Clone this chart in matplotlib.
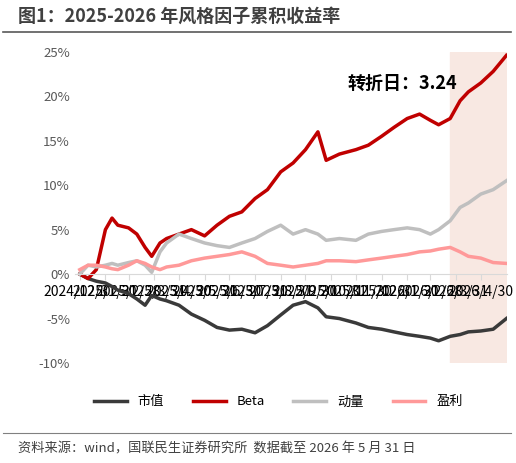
import pandas as pd
import matplotlib.pyplot as plt
from matplotlib.ticker import FuncFormatter

plt.rcParams['font.family'] = ['Noto Sans CJK SC', 'DejaVu Sans']

# semi-monthly sample points
dates = pd.to_datetime([
    "2024-12-31", "2025-01-10", "2025-01-20", "2025-01-31", "2025-02-08", "2025-02-15",
    "2025-02-28", "2025-03-10", "2025-03-20", "2025-03-28", "2025-04-07", "2025-04-15",
    "2025-04-30", "2025-05-15", "2025-05-31", "2025-06-15", "2025-06-30", "2025-07-15",
    "2025-07-31", "2025-08-15", "2025-08-31", "2025-09-15", "2025-09-30", "2025-10-15",
    "2025-10-25", "2025-11-10", "2025-11-30", "2025-12-15", "2025-12-31", "2026-01-15",
    "2026-01-31", "2026-02-15", "2026-02-28", "2026-03-10", "2026-03-24", "2026-04-05",
    "2026-04-15", "2026-04-30", "2026-05-15", "2026-05-31",
])
size = [0, -0.5, -0.8, -1.0, -1.4, -1.8, -2.2, -2.8, -3.5, -2.4, -2.8, -3.0,
        -3.5, -4.5, -5.2, -6.0, -6.3, -6.2, -6.6, -5.8, -4.6, -3.5, -3.1, -3.8,
        -4.8, -5.0, -5.5, -6.0, -6.2, -6.5, -6.8, -7.0, -7.2, -7.5, -7.0, -6.8,
        -6.5, -6.4, -6.2, -5.0]
beta = [0, -0.5, 0.5, 5.0, 6.3, 5.5, 5.2, 4.5, 3.0, 2.0, 3.5, 4.0,
        4.5, 5.0, 4.3, 5.5, 6.5, 7.0, 8.5, 9.5, 11.5, 12.5, 14.0, 16.0,
        12.8, 13.5, 14.0, 14.5, 15.5, 16.5, 17.5, 18.0, 17.3, 16.8, 17.5, 19.5,
        20.5, 21.5, 22.8, 24.6]
momentum = [0, 1.0, 0.8, 1.0, 1.2, 1.0, 1.3, 1.5, 1.0, 0.2, 2.5, 3.5,
            4.5, 4.0, 3.5, 3.2, 3.0, 3.5, 4.0, 4.8, 5.5, 4.5, 5.0, 4.5,
            3.8, 4.0, 3.8, 4.5, 4.8, 5.0, 5.2, 5.0, 4.5, 5.0, 6.0, 7.5,
            8.0, 9.0, 9.5, 10.5]
profit = [0.5, 1.0, 1.0, 0.8, 0.6, 0.5, 1.0, 1.5, 1.2, 0.8, 0.5, 0.8,
          1.0, 1.5, 1.8, 2.0, 2.2, 2.5, 2.0, 1.2, 1.0, 0.8, 1.0, 1.2,
          1.5, 1.5, 1.4, 1.6, 1.8, 2.0, 2.2, 2.5, 2.6, 2.8, 3.0, 2.5,
          2.0, 1.8, 1.3, 1.2]

tick_dates = pd.to_datetime(["2024-12-31", "2025-01-31", "2025-02-28", "2025-03-31",
                             "2025-04-30", "2025-05-31", "2025-06-30", "2025-07-31",
                             "2025-08-31", "2025-09-30", "2025-10-31", "2025-11-30",
                             "2025-12-31", "2026-01-31", "2026-02-28", "2026-03-31",
                             "2026-04-30"])
tick_labels = [f"{d.year}/{d.month}/{d.day}" for d in tick_dates]

fig = plt.figure(figsize=(5.16, 4.63), dpi=100)
ax = fig.add_axes([0.145, 0.216, 0.838, 0.672])

ax.axvspan(pd.Timestamp("2026-03-24"), pd.Timestamp("2026-06-01"), color="#f8e8e2", zorder=0)
ax.plot(dates, size, color="#3a3a3a", lw=2.5, label="市值")
ax.plot(dates, beta, color="#c00000", lw=2.5, label="Beta")
ax.plot(dates, momentum, color="#bfbfbf", lw=2.5, label="动量")
ax.plot(dates, profit, color="#ff9999", lw=2.5, label="盈利")

ax.set_xlim(pd.Timestamp("2024-12-25"), pd.Timestamp("2026-06-01"))
ax.set_ylim(-10, 25)
ax.set_yticks(range(-10, 26, 5))
ax.yaxis.set_major_formatter(FuncFormatter(lambda v, p: f"{v:.0f}%"))
ax.set_xticks(tick_dates)
ax.set_xticklabels(tick_labels)
plt.setp(ax.get_xticklabels(), rotation=90, color="#595959", fontsize=9.5,
         ha="center", va="top")
ax.tick_params(axis="y", length=0, labelsize=9.5, labelcolor="#595959")
ax.tick_params(axis="x", length=4, color="#d9d9d9", direction="out")
for s in ["top", "right", "left"]:
    ax.spines[s].set_visible(False)
ax.spines["bottom"].set_position(("data", 0))
ax.spines["bottom"].set_color("#d9d9d9")

ax.text(pd.Timestamp("2026-01-25"), 21.5, "转折日：3.24", fontsize=13,
        fontweight="bold", ha="center", va="center")

ax.legend(loc="center", bbox_to_anchor=(0.47, -0.125), ncol=4, frameon=False,
          fontsize=9.5, handlelength=2.5, columnspacing=2.2)

fig.text(0.035, 0.965, "图1：2025-2026 年风格因子累积收益率", fontsize=13,
         fontweight="bold", color="#404040", va="center")
fig.add_artist(plt.Line2D([0.005, 0.99], [0.93, 0.93], color="#595959", lw=1.2))
fig.text(0.035, 0.03, "资料来源：wind，国联民生证券研究所  数据截至 2026 年 5 月 31 日",
         fontsize=9.5, color="#404040", va="center")
fig.add_artist(plt.Line2D([0.005, 0.99], [0.065, 0.065], color="#808080", lw=0.8))

fig.savefig("out.png", dpi=100)
